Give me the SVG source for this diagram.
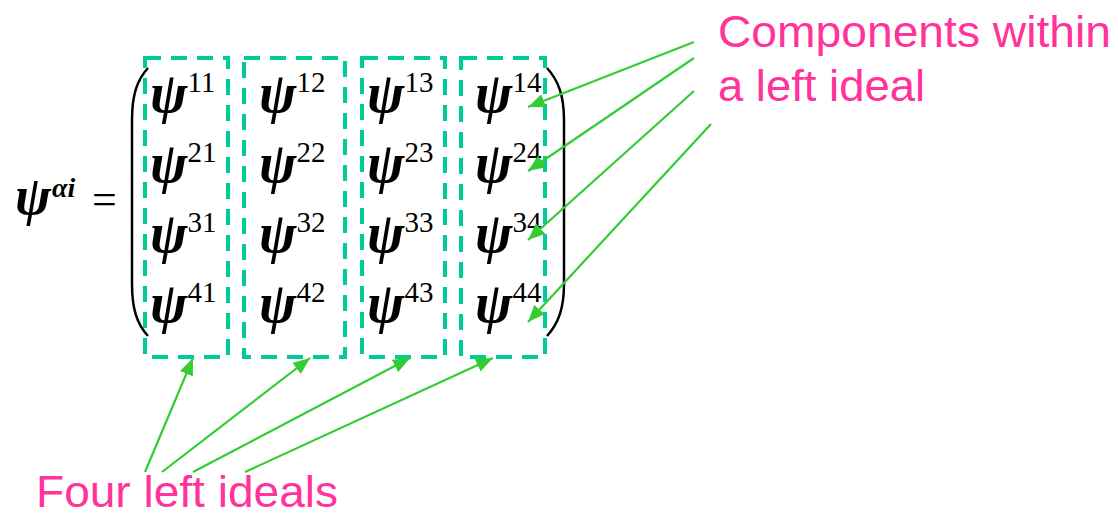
<svg xmlns="http://www.w3.org/2000/svg" width="1118" height="517" viewBox="0 0 1118 517">
<defs>
<style>
.psi{font-family:"Liberation Serif","Times New Roman",serif;font-style:italic;font-weight:bold;font-size:56px;fill:#000}
.sup{font-style:normal;font-weight:normal;font-size:29px}
.ideal{fill:none;stroke:#00CC99;stroke-width:4;stroke-dasharray:16 10}
.paren{fill:none;stroke:#000;stroke-width:2.5}
.lbl{font-family:"Liberation Sans",Arial,sans-serif;font-size:44px;fill:#FF3399}
.arr{stroke:#33CC33;stroke-width:2.2;fill:none;marker-end:url(#ah)}
</style>
<marker id="ah" viewBox="0 0 17 14" markerWidth="17" markerHeight="14" markerUnits="userSpaceOnUse" refX="17" refY="7" orient="auto">
<path d="M0,0 L17,7 L0,14 z" fill="#33CC33"/>
</marker>
</defs>
<rect width="1118" height="517" fill="#fff"/>
<g id="lhs">
<text class="psi" x="15" y="214" style="font-size:54px">ψ<tspan dy="-17" dx="1" style="font-size:28px">αi</tspan></text>
<text x="92" y="214" style="font-family:'Liberation Serif',serif;font-size:44px">=</text>
</g>
<g id="matrix">
<path class="paren" d="M148,68 C137,80 132,95 132,120 L132,284 C132,309 137,324 148,336"/>
<path class="paren" d="M547,68 C558,80 564,95 564,120 L564,284 C564,309 558,324 547,336"/>
</g>
<g id="ideal1"><rect class="ideal" x="145" y="58" width="83" height="299"/></g>
<g id="ideal2"><rect class="ideal" x="244" y="58" width="101" height="299"/></g>
<g id="ideal3"><rect class="ideal" x="362" y="58" width="83" height="299"/></g>
<g id="ideal4"><rect class="ideal" x="461" y="58" width="84" height="299"/></g>
<g id="elements">
<text class="psi" x="150" y="112">ψ<tspan class="sup" dy="-20">11</tspan></text>
<text class="psi" x="259" y="112">ψ<tspan class="sup" dy="-20">12</tspan></text>
<text class="psi" x="367" y="112">ψ<tspan class="sup" dy="-20">13</tspan></text>
<text class="psi" x="475" y="112">ψ<tspan class="sup" dy="-20">14</tspan></text>
<text class="psi" x="150" y="182">ψ<tspan class="sup" dy="-20">21</tspan></text>
<text class="psi" x="259" y="182">ψ<tspan class="sup" dy="-20">22</tspan></text>
<text class="psi" x="367" y="182">ψ<tspan class="sup" dy="-20">23</tspan></text>
<text class="psi" x="475" y="182">ψ<tspan class="sup" dy="-20">24</tspan></text>
<text class="psi" x="150" y="252">ψ<tspan class="sup" dy="-20">31</tspan></text>
<text class="psi" x="259" y="252">ψ<tspan class="sup" dy="-20">32</tspan></text>
<text class="psi" x="367" y="252">ψ<tspan class="sup" dy="-20">33</tspan></text>
<text class="psi" x="475" y="252">ψ<tspan class="sup" dy="-20">34</tspan></text>
<text class="psi" x="150" y="322">ψ<tspan class="sup" dy="-20">41</tspan></text>
<text class="psi" x="259" y="322">ψ<tspan class="sup" dy="-20">42</tspan></text>
<text class="psi" x="367" y="322">ψ<tspan class="sup" dy="-20">43</tspan></text>
<text class="psi" x="475" y="322">ψ<tspan class="sup" dy="-20">44</tspan></text>
</g>
<g id="label-components">
<text class="lbl" x="718" y="47" textLength="393" lengthAdjust="spacingAndGlyphs">Components within</text>
<text class="lbl" x="718" y="101" textLength="207" lengthAdjust="spacingAndGlyphs">a left ideal</text>
</g>
<g id="label-ideals">
<text class="lbl" x="36" y="507" textLength="302" lengthAdjust="spacingAndGlyphs">Four left ideals</text>
</g>
<g id="connectors">
<line class="arr" x1="694" y1="42" x2="528" y2="107"/>
<line class="arr" x1="694" y1="58" x2="528" y2="171"/>
<line class="arr" x1="694" y1="91" x2="528" y2="240"/>
<line class="arr" x1="711" y1="124" x2="528" y2="322"/>
<line class="arr" x1="145" y1="472" x2="193" y2="358"/>
<line class="arr" x1="162" y1="472" x2="310" y2="358"/>
<line class="arr" x1="193" y1="472" x2="410" y2="358"/>
<line class="arr" x1="245" y1="472" x2="493" y2="358"/>
</g>
</svg>
